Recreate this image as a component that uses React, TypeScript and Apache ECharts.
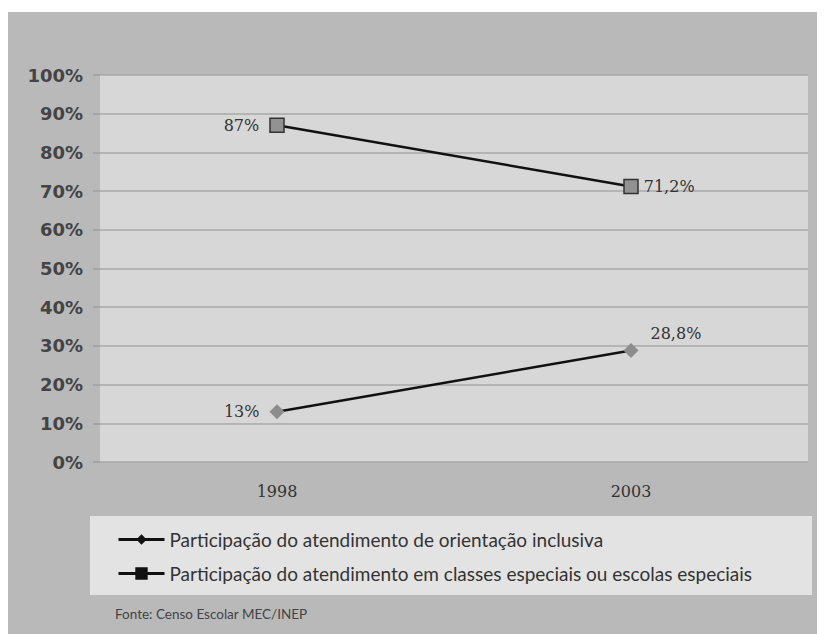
import React, { useEffect, useRef } from "react";
import * as echarts from "echarts";

const categories = ["1998", "2003"];
const inclusiva = [13, 28.8];
const especiais = [87, 71.2];
const seriesNames = [
  "Participação do atendimento de orientação inclusiva",
  "Participação do atendimento em classes especiais ou escolas especiais",
];
const yTicks = [0, 10, 20, 30, 40, 50, 60, 70, 80, 90, 100];
const sourceText = "Fonte: Censo Escolar MEC/INEP";

const fmt = (v: number) => String(v).replace(".", ",") + "%";

export default function App() {
  const ref = useRef<HTMLDivElement>(null);
  useEffect(() => {
    if (!ref.current) return;
    const chart = echarts.init(ref.current, null, { renderer: "svg" });
    const labelStyle = {
      show: true,
      fontFamily: "DejaVu Serif",
      fontSize: 16,
      color: "#333",
      formatter: (p: any) => fmt(p.value),
    };
    chart.setOption({
      animation: false,
      backgroundColor: "#ffffff",
      graphic: [
        {
          type: "rect",
          z: -10,
          shape: { x: 8, y: 12, width: 809, height: 622 },
          style: { fill: "#b9b9b9" },
        },
        {
          type: "rect",
          z: -5,
          shape: { x: 90, y: 516, width: 722, height: 79 },
          style: { fill: "#e3e3e3" },
        },
        {
          type: "text",
          left: 115,
          top: 607,
          style: {
            text: sourceText,
            fontFamily: "Lato",
            fontSize: 13.5,
            fill: "#444",
          },
        },
      ],
      grid: {
        left: 100,
        right: 17,
        top: 75,
        bottom: 172,
        show: true,
        backgroundColor: "#d7d7d7",
        borderWidth: 0,
      },
      legend: {
        orient: "vertical",
        left: 112,
        top: 525,
        itemWidth: 46,
        itemHeight: 13,
        itemGap: 15,
        textStyle: { fontFamily: "Lato", fontSize: 19, color: "#333" },
        data: [
          {
            name: seriesNames[0],
            itemStyle: { color: "#111" },
            lineStyle: { color: "#111", width: 3 },
          },
          {
            name: seriesNames[1],
            itemStyle: { color: "#111", borderColor: "#111" },
            lineStyle: { color: "#111", width: 3 },
          },
        ],
      },
      xAxis: {
        type: "category",
        data: categories,
        boundaryGap: true,
        axisLine: { show: false },
        axisTick: { show: false },
        axisLabel: {
          fontFamily: "DejaVu Serif",
          fontSize: 16,
          color: "#333",
          margin: 21,
        },
      },
      yAxis: {
        type: "value",
        min: 0,
        max: 100,
        interval: 10,
        axisLine: { show: false },
        axisTick: { show: true, length: 7, lineStyle: { color: "#9f9f9f", width: 1.5 } },
        splitLine: { lineStyle: { color: "#a9a9a9", width: 1.5 } },
        axisLabel: {
          formatter: (v: number) => (yTicks.includes(v) ? v + "%" : ""),
          fontFamily: "DejaVu Sans",
          fontWeight: "bold",
          fontSize: 18,
          color: "#444",
          margin: 17,
        },
      },
      series: [
        {
          name: seriesNames[0],
          type: "line",
          data: inclusiva.map((v, i) => ({
            value: v,
            label:
              i === 0
                ? { ...labelStyle, position: "left", distance: 10 }
                : { ...labelStyle, position: "right", distance: 12, offset: [0, -17] },
          })),
          symbol: "diamond",
          symbolSize: 15,
          itemStyle: { color: "#8c8c8c" },
          lineStyle: { color: "#111", width: 2.5 },
        },
        {
          name: seriesNames[1],
          type: "line",
          data: especiais.map((v, i) => ({
            value: v,
            label:
              i === 0
                ? { ...labelStyle, position: "left", distance: 10 }
                : { ...labelStyle, position: "right", distance: 5 },
          })),
          symbol: "rect",
          symbolSize: 14,
          itemStyle: { color: "#929292", borderColor: "#333", borderWidth: 1.5 },
          lineStyle: { color: "#111", width: 2.5 },
        },
      ],
    });
    return () => chart.dispose();
  }, []);
  return (
    <div
      ref={ref}
      style={{ position: "absolute", left: 0, top: 0, width: 825, height: 634 }}
    />
  );
}
